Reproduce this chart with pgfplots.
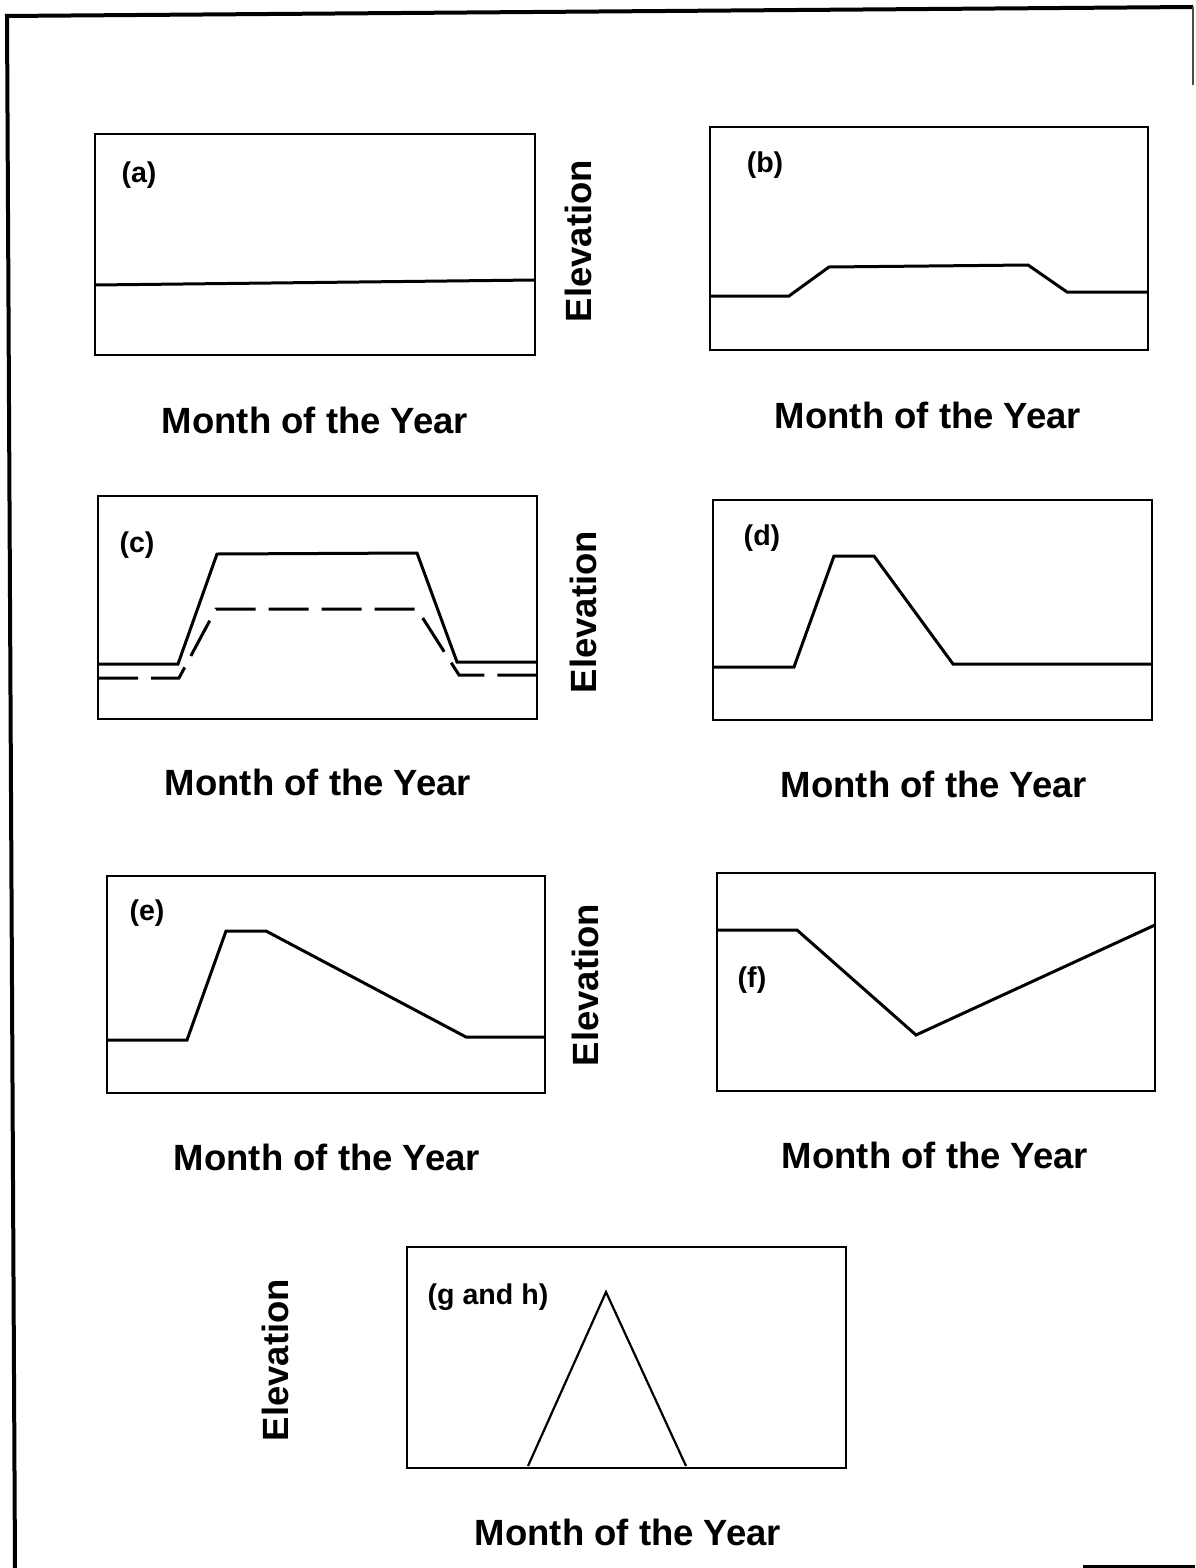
\documentclass[border=0pt]{standalone}
\usepackage{pgfplots}
\pgfplotsset{compat=1.18}
\usepackage{fontspec}
\setmainfont{Liberation Sans}
\pgfplotsset{panel/.style={scale only axis, anchor=south west, xtick=\empty, ytick=\empty,
  axis line style={line width=1.3pt}, clip=false, xmin=0, ymin=0},
  curve/.style={black, line width=1.5pt, no marks}}
\tikzset{mlab/.style={font=\fontsize{18.25}{20}\selectfont\bfseries, inner sep=0pt},
  plab/.style={font=\fontsize{14.3}{16}\selectfont\bfseries, inner sep=0pt}}
\begin{document}
\begin{tikzpicture}
\useasboundingbox (0,0) rectangle (597.5pt,-784pt);
% outer frame (scanned, slightly tilted)
\draw[line width=2pt] (2.5pt,-8pt) -- (596.5pt,-3.5pt);
\draw[line width=2pt] (3.5pt,-8pt) -- (7.5pt,-784pt);
\draw[line width=1pt, black!70] (596.5pt,-3.5pt) -- (596.5pt,-42.5pt);
\draw[line width=2pt] (541.5pt,-783.5pt) -- (597.5pt,-783.5pt);

% (a)
\begin{axis}[panel, at={(47.5pt,-177.5pt)}, width=220pt, height=110.5pt, xmax=440, ymax=221]
\addplot[curve] coordinates {(0,70) (440,75)};
\node[plab] at (axis cs:44,180) {(a)};
\node[mlab] at (axis cs:220,-65) {Month of the Year};
\end{axis}

% (b)
\begin{axis}[panel, at={(355pt,-175pt)}, width=219pt, height=111.5pt, xmax=438, ymax=223]
\addplot[curve] coordinates {(0,54) (79,54) (119,83) (318,85) (357,58) (438,58)};
\node[plab] at (axis cs:55,185) {(b)};
\node[mlab] at (axis cs:218,-65) {Month of the Year};
\node[mlab, rotate=90] at (axis cs:-132,109) {Elevation};
\end{axis}

% (c)
\begin{axis}[panel, at={(49pt,-359.5pt)}, width=219.5pt, height=111.5pt, xmax=439, ymax=223]
\addplot[curve] coordinates {(0,55) (80,55) (119,165) (319,166) (359,57) (439,57)};
\addplot[curve, dash pattern=on 20pt off 6.5pt] coordinates {(0,41) (81,41) (118,110) (319,110) (361,44) (439,44)};
\node[plab] at (axis cs:39,174) {(c)};
\node[mlab] at (axis cs:220,-63) {Month of the Year};
\end{axis}

% (d)
\begin{axis}[panel, at={(356.5pt,-360pt)}, width=219.5pt, height=110pt, xmax=439, ymax=220]
\addplot[curve] coordinates {(0,53) (81,53) (121,164) (161,164) (240,56) (439,56)};
\node[plab] at (axis cs:49,182) {(d)};
\node[mlab] at (axis cs:221,-64) {Month of the Year};
\node[mlab, rotate=90] at (axis cs:-130,108) {Elevation};
\end{axis}

% (e)
\begin{axis}[panel, at={(53.5pt,-546.5pt)}, width=219pt, height=108.5pt, xmax=438, ymax=217]
\addplot[curve] coordinates {(0,53) (80,53) (119,162) (159,162) (359,56) (438,56)};
\node[plab] at (axis cs:40,180) {(e)};
\node[mlab] at (axis cs:220,-64) {Month of the Year};
\end{axis}

% (f)
\begin{axis}[panel, at={(358.5pt,-545.5pt)}, width=219pt, height=109pt, xmax=438, ymax=218]
\addplot[curve] coordinates {(0,161) (80,161) (199,56) (438,166)};
\node[plab] at (axis cs:35,111) {(f)};
\node[mlab] at (axis cs:218,-64) {Month of the Year};
\node[mlab, rotate=90] at (axis cs:-132,106) {Elevation};
\end{axis}

% (g and h)
\begin{axis}[panel, at={(203.5pt,-734pt)}, width=219.5pt, height=110.5pt, xmax=439, ymax=221]
\addplot[curve, line width=1.1pt] coordinates {(121,2) (199,176) (279,2)};
\node[plab] at (axis cs:81,171) {(g and h)};
\node[mlab] at (axis cs:221,-64) {Month of the Year};
\node[mlab, rotate=90] at (axis cs:-132,108) {Elevation};
\end{axis}
\end{tikzpicture}
\end{document}
